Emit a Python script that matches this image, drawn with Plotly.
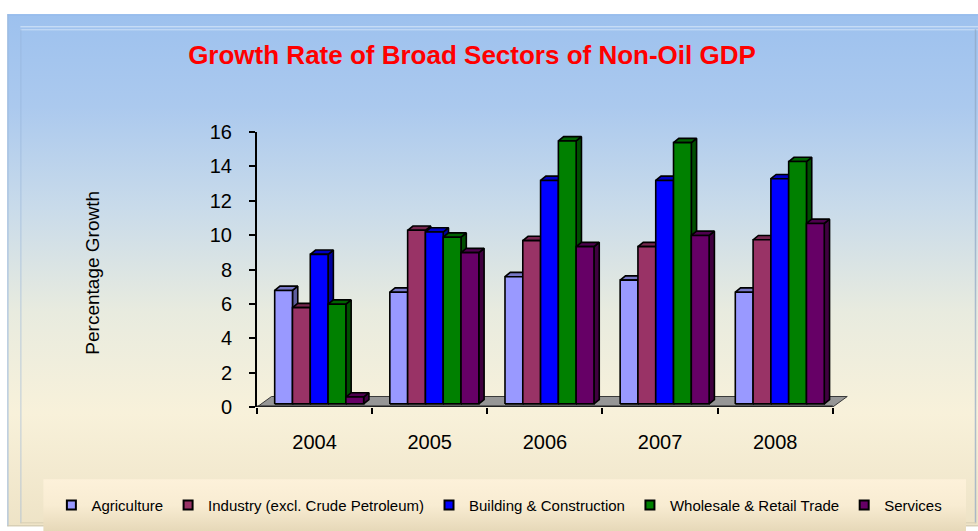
import base64
import plotly.graph_objects as go

# ---------------- data ----------------
years = ["2004", "2005", "2006", "2007", "2008"]
series_names = [
    "Agriculture",
    "Industry (excl. Crude Petroleum)",
    "Building & Construction",
    "Wholesale & Retail Trade",
    "Services",
]
agriculture = [6.6, 6.5, 7.4, 7.2, 6.5]
industry = [5.6, 10.1, 9.5, 9.15, 9.55]
building = [8.7, 10.0, 13.0, 13.0, 13.1]
wholesale = [5.8, 9.7, 15.3, 15.2, 14.1]
services = [0.4, 8.8, 9.15, 9.8, 10.5]
y_ticks = [0, 2, 4, 6, 8, 10, 12, 14, 16]

series_values = [agriculture, industry, building, wholesale, services]
colors = ["#9999FF", "#993366", "#0000FF", "#008000", "#660066"]

# ---------------- geometry (pixels -> axis units) ----------------
W, H = 978, 531
PLOT_LEFT, PLOT_TOP, PLOT_BOTTOM, PLOT_RIGHT = 256.7, 131.7, 406.7, 962
PW = PLOT_RIGHT - PLOT_LEFT
PH = PLOT_BOTTOM - PLOT_TOP
Y_MAX = 16
PX_PER_CAT = 115.2
PX_PER_UNIT = PH / Y_MAX
X_MIN = -0.5
X_MAX = X_MIN + PW / PX_PER_CAT

BAR_W = 17.8 / PX_PER_CAT
DDX, DDY = 5.3 / PX_PER_CAT, 4.3 / PX_PER_UNIT          # bar depth
FDX, FDY = 14.5 / PX_PER_CAT, 10.5 / PX_PER_UNIT        # floor depth
OFFX, OFFY = (FDX - DDX) / 2, (FDY - DDY) / 2           # bars centred in depth
N = len(series_names)


def shade(hexcol, f):
    h = hexcol.lstrip("#")
    r, g, b = (int(h[i:i + 2], 16) for i in (0, 2, 4))
    return "#%02x%02x%02x" % (int(r * f), int(g * f), int(b * f))


def px_x(p):
    return (p - PLOT_LEFT) / PW


def px_y(p):
    return (PLOT_BOTTOM - p) / PH


fig = go.Figure()

# floor
n_cat = len(years)
fig.add_trace(go.Scatter(
    x=[X_MIN, X_MIN + n_cat, X_MIN + n_cat + FDX, X_MIN + FDX, X_MIN],
    y=[0, 0, FDY, FDY, 0],
    fill="toself", fillcolor="#969696", mode="lines",
    line=dict(color="#3a3a3a", width=1), hoverinfo="skip", showlegend=False))
fig.add_trace(go.Scatter(
    x=[X_MIN, X_MIN + n_cat], y=[0, 0], mode="lines",
    line=dict(color="#202020", width=3), hoverinfo="skip", showlegend=False))

# 3D bars built from the data
for k, (name, vals, col) in enumerate(zip(series_names, series_values, colors)):
    fx, fy, tx, ty, sx, sy = [], [], [], [], [], []
    for i, v in enumerate(vals):
        x0 = i + OFFX + (k - N / 2) * BAR_W
        x1 = x0 + BAR_W
        b = OFFY
        t = OFFY + v
        fx += [x0, x1, x1, x0, x0, None]
        fy += [b, b, t, t, b, None]
        tx += [x0, x1, x1 + DDX, x0 + DDX, x0, None]
        ty += [t, t, t + DDY, t + DDY, t, None]
        sx += [x1, x1 + DDX, x1 + DDX, x1, x1, None]
        sy += [b, b + DDY, t + DDY, t, b, None]
    line = dict(color="#000000", width=1.6)
    fig.add_trace(go.Scatter(x=sx, y=sy, fill="toself", fillcolor=shade(col, 0.62),
                             mode="lines", line=line, hoverinfo="skip", showlegend=False))
    fig.add_trace(go.Scatter(x=tx, y=ty, fill="toself", fillcolor=shade(col, 0.78),
                             mode="lines", line=line, hoverinfo="skip", showlegend=False))
    fig.add_trace(go.Scatter(x=fx, y=fy, fill="toself", fillcolor=col,
                             mode="lines", line=line, name=name, hoverinfo="name",
                             showlegend=False))

# legend entries
for name, col in zip(series_names, colors):
    fig.add_trace(go.Scatter(x=[None], y=[None], name=name, mode="markers",
                             marker=dict(symbol="square", size=9, color=col,
                                         line=dict(color="#000000", width=2))))

# ---------------- background (gradient panel) ----------------
svg = f'''<svg xmlns="http://www.w3.org/2000/svg" width="{W}" height="{H}" viewBox="0 0 {W} {H}">
<defs>
<linearGradient id="g" x1="0" y1="0" x2="0" y2="1">
<stop offset="0" stop-color="#9dc1ee"/>
<stop offset="0.18" stop-color="#abc9ee"/>
<stop offset="0.38" stop-color="#c9dbea"/>
<stop offset="0.58" stop-color="#e8ebdf"/>
<stop offset="0.78" stop-color="#f8f1da"/>
<stop offset="1" stop-color="#eee3c6"/>
</linearGradient>
<linearGradient id="lg" x1="0" y1="0" x2="0" y2="1">
<stop offset="0" stop-color="#fdf1da"/>
<stop offset="0.5" stop-color="#f8ecd2"/>
<stop offset="1" stop-color="#e6d8b8"/>
</linearGradient>
</defs>
<rect x="0" y="0" width="{W}" height="{H}" fill="#ffffff"/>
<rect x="7" y="14" width="{W - 7}" height="512" fill="url(#g)"/>
<line x1="7" y1="14.5" x2="{W}" y2="14.5" stroke="#8fb6ea" stroke-width="1"/>
<line x1="7.5" y1="14" x2="7.5" y2="526" stroke="#9ab8dc" stroke-width="1"/>
<line x1="20" y1="26.5" x2="{W}" y2="26.5" stroke="#d6e6f8" stroke-width="1"/>
<line x1="20" y1="29.5" x2="{W}" y2="29.5" stroke="#cfe0f6" stroke-width="1"/>
<line x1="20.5" y1="29" x2="20.5" y2="523" stroke="#94b2d6" stroke-opacity="0.6" stroke-width="1"/>
<line x1="975.5" y1="29" x2="975.5" y2="523" stroke="#8ea6c4" stroke-opacity="0.7" stroke-width="1.5"/>
<line x1="20" y1="522.5" x2="976" y2="522.5" stroke="#d8ceb4" stroke-width="1"/>
<line x1="7" y1="525.5" x2="{W}" y2="525.5" stroke="#cfc6ae" stroke-width="1"/>
<rect x="43" y="479" width="923" height="52" fill="url(#lg)"/>
</svg>'''
svg_uri = "data:image/svg+xml;base64," + base64.b64encode(svg.encode()).decode()

FONT = "Arial, 'Liberation Sans', sans-serif"

fig.update_layout(
    width=W, height=H,
    margin=dict(l=PLOT_LEFT, r=W - PLOT_RIGHT, t=PLOT_TOP, b=H - PLOT_BOTTOM, autoexpand=False),
    paper_bgcolor="#ffffff",
    plot_bgcolor="rgba(0,0,0,0)",
    font=dict(family=FONT, color="#000000"),
    showlegend=True,
    images=[dict(source=svg_uri, xref="paper", yref="paper",
                 x=-PLOT_LEFT / PW, y=1 + PLOT_TOP / PH,
                 sizex=W / PW, sizey=H / PH,
                 xanchor="left", yanchor="top", sizing="stretch", layer="below")],
    title=dict(text="<b>Growth Rate of Broad Sectors of Non-Oil GDP</b>",
               x=472 / W, y=1 - 55 / H, xref="container", yref="container",
               xanchor="center", yanchor="middle",
               font=dict(family=FONT, size=26, color="#FF0000")),
    xaxis=dict(range=[X_MIN, X_MAX], showgrid=False, zeroline=False, showline=False,
               tickmode="array", tickvals=list(range(len(years))), ticktext=years,
               ticks="", ticklabelstandoff=21,
               tickfont=dict(family=FONT, size=20, color="#000000"),
               minor=dict(tickmode="array",
                          tickvals=[X_MIN + j for j in range(len(years) + 1)],
                          ticks="outside", ticklen=6, tickwidth=2, tickcolor="#000000"),
               fixedrange=True),
    yaxis=dict(range=[0, Y_MAX], showgrid=False, zeroline=False, showline=True,
               linecolor="#000000", linewidth=2, tickmode="array", tickvals=y_ticks,
               ticks="outside", ticklen=6, tickwidth=2, tickcolor="#000000",
               ticklabelstandoff=13,
               tickfont=dict(family=FONT, size=20, color="#000000"), fixedrange=True),
    legend=dict(orientation="h", x=px_x(51), xanchor="left", y=px_y(505), yanchor="middle",
                bgcolor="rgba(0,0,0,0)", font=dict(family=FONT, size=15, color="#000000"),
                itemsizing="trace", traceorder="normal"),
    annotations=[dict(text="Percentage Growth", textangle=-90, showarrow=False,
                      xref="paper", yref="paper", x=px_x(92), y=px_y(272),
                      xanchor="center", yanchor="middle",
                      font=dict(family=FONT, size=19, color="#000000"))],
)

fig.write_html("out.html")
